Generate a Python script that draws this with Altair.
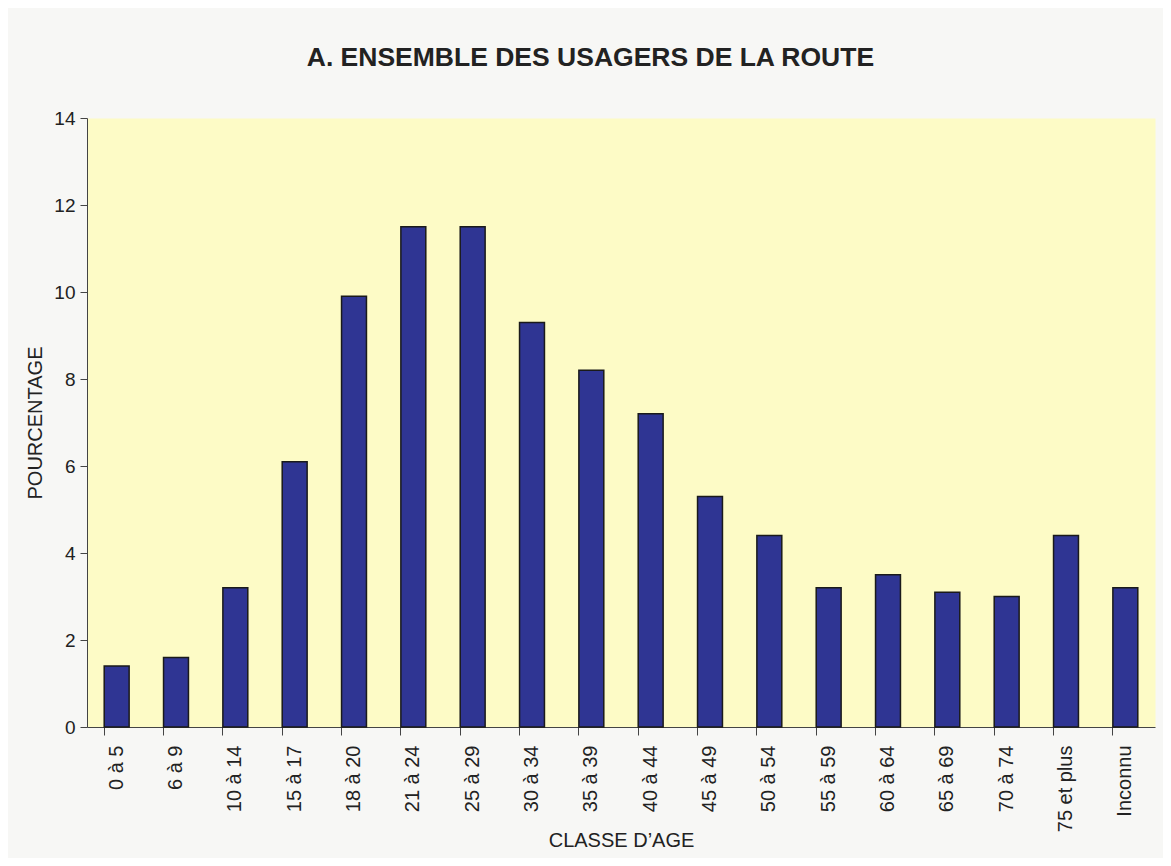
import altair as alt
import pandas as pd

categories = ["0 à 5", "6 à 9", "10 à 14", "15 à 17", "18 à 20", "21 à 24", "25 à 29",
              "30 à 34", "35 à 39", "40 à 44", "45 à 49", "50 à 54", "55 à 59",
              "60 à 64", "65 à 69", "70 à 74", "75 et plus", "Inconnu"]
values = [1.4, 1.6, 3.2, 6.1, 9.9, 11.5, 11.5, 9.3, 8.2, 7.2, 5.3, 4.4, 3.2, 3.5, 3.1, 3.0, 4.4, 3.2]

df = pd.DataFrame({"classe": categories, "pct": values})

FONT = "Liberation Sans"

chart = alt.Chart(df).mark_bar(
    color="#2f3593", stroke="#1a1a1a", strokeWidth=1.5
).encode(
    x=alt.X("classe:N", sort=categories,
            scale=alt.Scale(paddingInner=0.58, paddingOuter=0.29),
            axis=alt.Axis(title="CLASSE D’AGE", labelAngle=-90, labelAlign="right",
                          labelBaseline="middle", bandPosition=0, tickSize=8,
                          labelPadding=10, titlePadding=-1, labelFontSize=20,
                          titleFontSize=20, titleFontWeight="normal",
                          labelFont=FONT, titleFont=FONT,
                          labelColor="#222", titleColor="#222",
                          domainColor="#444", tickColor="#444")),
    y=alt.Y("pct:Q", scale=alt.Scale(domain=[0, 14]),
            axis=alt.Axis(title="POURCENTAGE", values=[0, 2, 4, 6, 8, 10, 12, 14],
                          tickSize=7, labelPadding=5, labelFontSize=19,
                          labelFont=FONT, titleFont=FONT,
                          titleFontSize=20, titleFontWeight="normal", titlePadding=8,
                          grid=False, labelColor="#222", titleColor="#222",
                          domainColor="#444", tickColor="#444")),
).properties(
    width=1068, height=609,
    title=alt.TitleParams("A. ENSEMBLE DES USAGERS DE LA ROUTE", fontSize=26.5,
                          fontWeight="bold", font=FONT, color="#222",
                          anchor="middle", frame="bounds", offset=38),
    autosize=alt.AutoSizeParams(type="none"),
    padding={"left": 79, "top": 110, "right": 8, "bottom": 131},
    background="#f7f7f5",
).configure(
    font=FONT,
    view=alt.ViewConfig(fill="#fdfbc6", strokeOpacity=0),
)

chart.save("out.html", embed_options={"renderer": "svg", "actions": False})
